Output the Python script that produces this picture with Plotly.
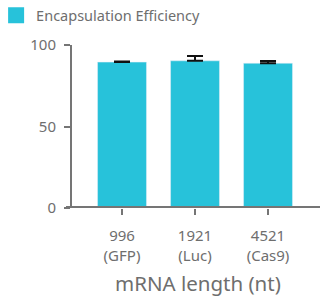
import plotly.graph_objects as go

categories = ["996<br>(GFP)", "1921<br>(Luc)", "4521<br>(Cas9)"]
efficiency = [89.5, 90.3, 88.8]
error_up = [0.4, 2.9, 1.4]
series_name = "Encapsulation Efficiency"
x_title = "mRNA length (nt)"
y_ticks = [0, 50, 100]

BAR = "#27C2DA"
GRAY = "#6e6e6e"
AXIS = "#757575"
FONT = "Noto Sans"

fig = go.Figure()
fig.add_trace(go.Bar(
    x=categories, y=efficiency, marker_color=BAR, showlegend=False,
    error_y=dict(type="data", symmetric=False, array=error_up,
                 arrayminus=[0] * len(error_up), color="#111111",
                 thickness=2, width=8),
))
fig.add_trace(go.Scatter(
    x=[None], y=[None], mode="markers", name=series_name,
    marker=dict(symbol="square", size=17, color=BAR), showlegend=True,
))

fig.update_layout(
    width=320, height=297,
    margin=dict(l=72, r=0, t=45, b=89, autoexpand=False),
    plot_bgcolor="white", paper_bgcolor="white",
    bargap=0.33,
    font=dict(family=FONT, color=GRAY, size=15),
    legend=dict(x=-0.306, xanchor="left", y=1.28, yanchor="top",
                font=dict(size=14.5, color=GRAY), bgcolor="rgba(0,0,0,0)"),
    xaxis=dict(range=[-0.685, 2.712], showline=False, showgrid=False,
               ticks="outside", ticklen=6, tickwidth=2, tickcolor=AXIS,
               tickfont=dict(size=15, color=GRAY), ticklabelstandoff=8),
    yaxis=dict(range=[0, 100], tickvals=y_ticks, showgrid=False, zeroline=False,
               showline=True, linewidth=2, linecolor=AXIS,
               ticks="outside", ticklen=6, tickwidth=2, tickcolor=AXIS,
               tickfont=dict(size=15, color=GRAY), ticklabelstandoff=5),
)
fig.add_annotation(text=x_title, xref="paper", yref="paper", x=0.51, y=-0.458,
                   xanchor="center", yanchor="middle", showarrow=False,
                   font=dict(size=20.5, color=GRAY, family=FONT))
fig.add_shape(type="line", xref="paper", yref="y", x0=-6 / 248, x1=1, y0=0, y1=0,
              line=dict(color=AXIS, width=4), layer="above")

fig.write_html("out.html", config={"displayModeBar": False},
               post_script="document.body.style.margin='0';")
